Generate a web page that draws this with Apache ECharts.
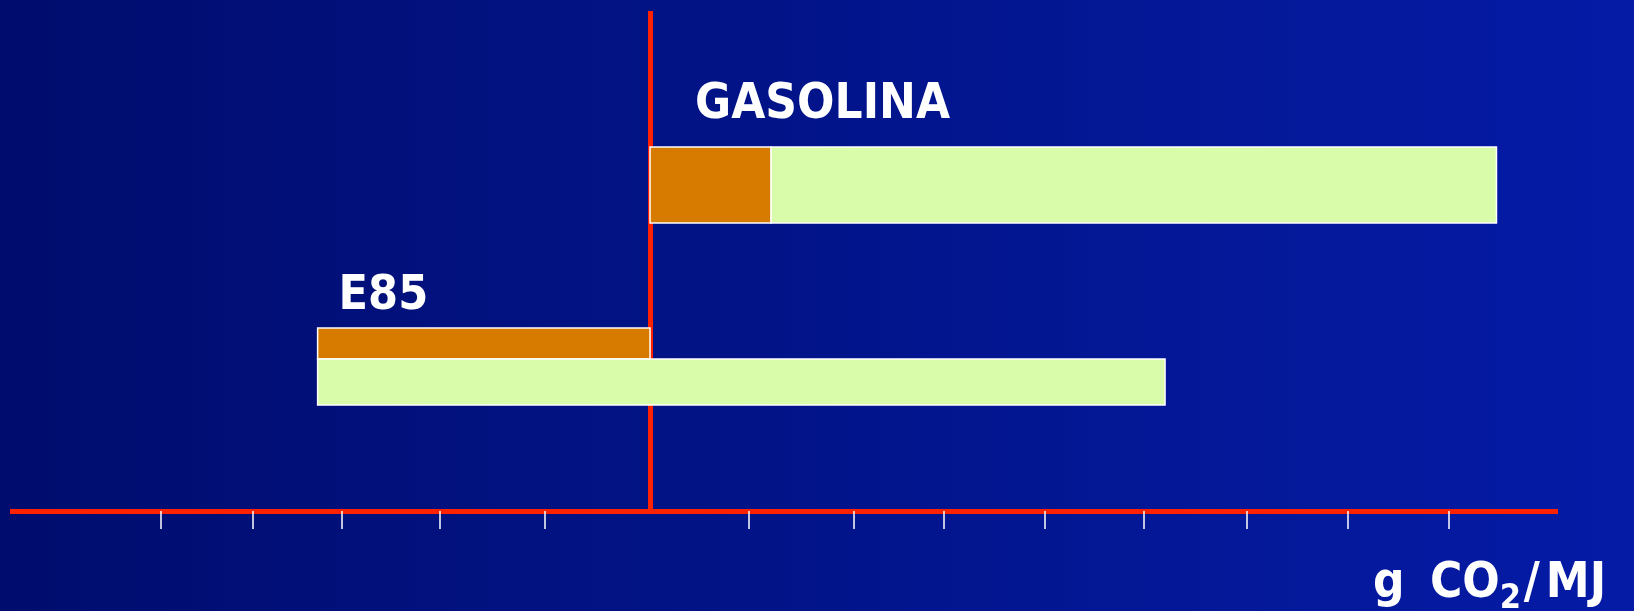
<!DOCTYPE html>
<html>
<head>
<meta charset="utf-8">
<script src="https://cdn.jsdelivr.net/npm/echarts@6/dist/echarts.min.js"></script>
<style>
html, body { margin: 0; padding: 0; }
#chartBox { width: 1634px; height: 611px; }
</style>
</head>
<body>
<div id="chartBox"></div>
<script>
var fuelNames = ['GASOLINA', 'E85'];
// tramo naranja y tramo verde: inicio y fin en g CO2/MJ
var orangeStart = [0, -33.5];
var orangeEnd = [12.2, 0];
var greenStart = [12.2, -33.5];
var greenEnd = [85.3, 51.9];
// marcas del eje tal como estan dibujadas (a mano, no del todo regulares)
var tickValues = [-49.3, -40, -31.1, -21.2, -10.6, 9.9, 20.5, 29.6, 39.8, 49.8, 60.1, 70.3, 80.5];
var unitParts = ['g', 'CO', '2', '/', 'MJ'];

var fontFam = '"DejaVu Sans Condensed", "DejaVu Sans", sans-serif';

// posicion de cada barra respecto al centro de su fila (px)
var orangeLayout = [{ dy: 11, h: 76 }, { dy: -58, h: 31 }];
var greenLayout = [{ dy: 11, h: 76 }, { dy: -27, h: 46 }];
var labelLayout = [{ dx: 45, dy: -31, size: 49 }, { dx: 21, dy: -89, size: 48 }];

function buildData(starts, ends) {
    var list = [];
    for (var i = 0; i < fuelNames.length; i++) {
        list.push([starts[i], ends[i], fuelNames[i]]);
    }
    return list;
}

function barRender(layout, color, withLabel) {
    return function (params, api) {
        var idx = api.value(2);
        var p0 = api.coord([api.value(0), idx]);
        var p1 = api.coord([api.value(1), idx]);
        var lay = layout[idx];
        var children = [{
            type: 'rect',
            shape: { x: p0[0], y: p0[1] + lay.dy, width: p1[0] - p0[0], height: lay.h },
            style: { fill: color, stroke: '#ffffff', lineWidth: 1.5 }
        }];
        if (withLabel) {
            var lb = labelLayout[idx];
            children.push({
                type: 'text',
                x: p0[0] + lb.dx,
                y: p0[1] + lb.dy,
                style: {
                    text: fuelNames[idx],
                    fill: '#ffffff',
                    fontSize: lb.size,
                    fontWeight: 'bold',
                    fontFamily: fontFam,
                    align: 'left',
                    verticalAlign: 'middle'
                }
            });
        }
        return { type: 'group', children: children };
    };
}

function setOptionChart() {
    var txt = { fontSize: 49, fontWeight: 'bold', fontFamily: fontFam, fill: '#ffffff', lineHeight: 56, verticalAlign: 'top' };
    var option = {
        backgroundColor: {
            type: 'linear', x: 0, y: 0, x2: 1, y2: 0,
            colorStops: [
                { offset: 0, color: '#000d6e' },
                { offset: 1, color: '#051ba6' }
            ]
        },
        animation: false,
        grid: { left: 10, right: 76, top: 11, bottom: 100, containLabel: false },
        xAxis: {
            type: 'value',
            min: -64.5,
            max: 91.5,
            axisLine: { show: true, lineStyle: { color: '#ff2200', width: 5, cap: 'butt' } },
            axisTick: {
                show: true,
                customValues: tickValues,
                length: 18,
                lineStyle: { color: '#ffffff', width: 1.5 }
            },
            axisLabel: { show: false },
            splitLine: { show: false }
        },
        yAxis: {
            type: 'category',
            inverse: true,
            data: fuelNames,
            axisLine: { show: true, onZero: true, lineStyle: { color: '#ff2200', width: 5, cap: 'butt' } },
            axisTick: { show: false },
            axisLabel: { show: false },
            splitLine: { show: false }
        },
        graphic: [{
            type: 'text',
            left: 1373,
            top: 556,
            style: {
                text: '{g|' + unitParts[0] + '}{n|' + unitParts[1] + '}{s|' + unitParts[2] + '}{sl|' +
                    unitParts[3] + '}{n|' + unitParts[4] + '}',
                rich: {
                    g: Object.assign({}, txt, { width: 57 }),
                    n: txt,
                    sl: Object.assign({}, txt, { width: 22 }),
                    s: { fontSize: 34, fontWeight: 'bold', fontFamily: fontFam, fill: '#ffffff', lineHeight: 34,
                        verticalAlign: 'bottom', padding: [26, 0, 0, 0], width: 24 }
                }
            }
        }],
        series: [
            {
                name: 'naranja',
                type: 'custom',
                renderItem: barRender(orangeLayout, '#d67a00', true),
                encode: { x: [0, 1], y: 2 },
                data: buildData(orangeStart, orangeEnd)
            },
            {
                name: 'verde',
                type: 'custom',
                renderItem: barRender(greenLayout, '#d8fcaa', false),
                encode: { x: [0, 1], y: 2 },
                data: buildData(greenStart, greenEnd)
            }
        ]
    };
    return option;
}

var chart = echarts.init(document.getElementById('chartBox'));
chart.setOption(setOptionChart());
</script>
</body>
</html>
